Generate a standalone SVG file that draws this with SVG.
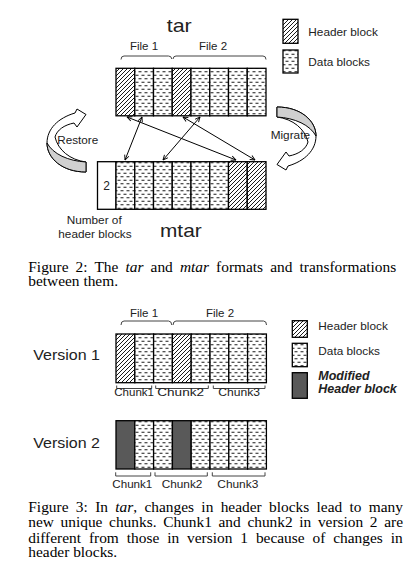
<svg xmlns="http://www.w3.org/2000/svg" xmlns:xlink="http://www.w3.org/1999/xlink" width="420" height="581" viewBox="0 0 420 581">
<style>
.lbl{font-family:"Liberation Sans",Arial,sans-serif;fill:#222}
.cap{font-family:"Liberation Serif","Times New Roman",serif;font-size:14px;fill:#000}
.blk{stroke:#000;stroke-width:1.3}
.brk{fill:none;stroke:#444;stroke-width:1}
.con{fill:none;stroke:#000;stroke-width:1;marker-start:url(#ah);marker-end:url(#ah)}
.rib{stroke:#000;stroke-width:1;stroke-linejoin:round}
</style>
<defs>
<pattern id="hatch" patternUnits="userSpaceOnUse" width="4" height="4">
<rect width="4" height="4" fill="#fff"/>
<path d="M-1,1L1,-1M0,4L4,0M3,5L5,3" stroke="#000" stroke-width="0.9"/>
</pattern>
<pattern id="dash" patternUnits="userSpaceOnUse" width="6" height="7">
<rect width="6" height="7" fill="#fff"/>
<path d="M0.5,1.75H3.5M3.5,5.25H6.5M-2.5,5.25H0.5" stroke="#000" stroke-width="0.9"/>
</pattern>
<marker id="ah" viewBox="0 0 8 8" refX="7.5" refY="4" markerWidth="6" markerHeight="6" markerUnits="userSpaceOnUse" orient="auto-start-reverse">
<path d="M1,1L7.5,4L1,7" fill="none" stroke="#000" stroke-width="1.2"/>
</marker>
<g id="ribbon">
<path class="rib" fill="#fff" d="M86,172C62,172 47,158 47,143C47,129 58,118 75,113L77,109L86,114.5L77,127L74,123C64,125 57,130 55,137C58,150 70,160 86,162Z"/>
<path class="rib" fill="#d0d0d0" d="M86,172C62,172 47,158 47,143C53,154 68,161 86,162Z"/>
</g>
</defs>
<rect width="420" height="581" fill="#fff"/>

<!-- Figure 2 -->
<g id="tar-row">
<text class="lbl" x="166.7" y="32" font-size="18.5" textLength="25" lengthAdjust="spacingAndGlyphs">tar</text>
<text class="lbl" x="144" y="50" font-size="11.5" text-anchor="middle">File 1</text>
<text class="lbl" x="213" y="50" font-size="11.5" text-anchor="middle">File 2</text>
<path class="brk" d="M121,59.5Q121,56 124,56H168.5Q171.5,56 171.8,59M173,59Q173.3,56 176,56H263Q266,56 266,59.5"/>
<rect class="blk" x="116" y="68.3" width="18.75" height="47.5" fill="url(#hatch)"/>
<rect class="blk" x="134.75" y="68.3" width="18.75" height="47.5" fill="url(#dash)"/>
<rect class="blk" x="153.5" y="68.3" width="18.75" height="47.5" fill="url(#dash)"/>
<rect class="blk" x="172.25" y="68.3" width="18.75" height="47.5" fill="url(#hatch)"/>
<rect class="blk" x="191" y="68.3" width="18.75" height="47.5" fill="url(#dash)"/>
<rect class="blk" x="209.75" y="68.3" width="18.75" height="47.5" fill="url(#dash)"/>
<rect class="blk" x="228.5" y="68.3" width="18.75" height="47.5" fill="url(#dash)"/>
<rect class="blk" x="247.25" y="68.3" width="18.75" height="47.5" fill="url(#dash)"/>
</g>

<g id="mtar-row">
<rect class="blk" x="97.5" y="161.7" width="18.5" height="47.6" fill="#fff"/>
<text class="lbl" x="106.5" y="190" font-size="12" text-anchor="middle">2</text>
<rect class="blk" x="116" y="161.7" width="18.75" height="47.6" fill="url(#dash)"/>
<rect class="blk" x="134.75" y="161.7" width="18.75" height="47.6" fill="url(#dash)"/>
<rect class="blk" x="153.5" y="161.7" width="18.75" height="47.6" fill="url(#dash)"/>
<rect class="blk" x="172.25" y="161.7" width="18.75" height="47.6" fill="url(#dash)"/>
<rect class="blk" x="191" y="161.7" width="18.75" height="47.6" fill="url(#dash)"/>
<rect class="blk" x="209.75" y="161.7" width="18.75" height="47.6" fill="url(#dash)"/>
<rect class="blk" x="228.5" y="161.7" width="18.75" height="47.6" fill="url(#hatch)"/>
<rect class="blk" x="247.25" y="161.7" width="18.75" height="47.6" fill="url(#hatch)"/>
<text class="lbl" x="66.7" y="224" font-size="11" textLength="55" lengthAdjust="spacingAndGlyphs">Number of</text>
<text class="lbl" x="58.3" y="238.3" font-size="11" textLength="73.3" lengthAdjust="spacingAndGlyphs">header blocks</text>
<text class="lbl" x="160" y="236.7" font-size="18.5" textLength="41.7" lengthAdjust="spacingAndGlyphs">mtar</text>
</g>

<g id="legend-fig2">
<rect class="blk" x="283" y="19.3" width="15" height="24" fill="url(#hatch)"/>
<text class="lbl" x="308.3" y="35.7" font-size="11.8">Header block</text>
<rect class="blk" x="283" y="50" width="15" height="23" fill="url(#dash)"/>
<text class="lbl" x="308.3" y="66" font-size="11.8">Data blocks</text>
</g>

<g id="restore">
<use xlink:href="#ribbon"/>
<text class="lbl" x="57.3" y="144" font-size="11" textLength="41" lengthAdjust="spacingAndGlyphs">Restore</text>
</g>

<g id="migrate">
<use xlink:href="#ribbon" transform="rotate(180 181.5 139.5)"/>
<text class="lbl" x="270.7" y="139.3" font-size="11" textLength="39.3" lengthAdjust="spacingAndGlyphs">Migrate</text>
</g>

<g id="connectors">
<line class="con" x1="127" y1="117" x2="236" y2="160"/>
<line class="con" x1="142" y1="117" x2="125" y2="160"/>
<line class="con" x1="183" y1="117" x2="255" y2="160"/>
<line class="con" x1="200" y1="117" x2="163" y2="160"/>
</g>

<g id="caption2" transform="translate(28.3,0) scale(1.1,1)">
<text class="cap" x="0" y="271.7" word-spacing="2.98">Figure 2: The <tspan font-style="italic">tar</tspan> and <tspan font-style="italic">mtar</tspan> formats and transformations</text>
<text class="cap" x="0" y="286">between them.</text>
</g>

<!-- Figure 3 -->
<g id="version1-row">
<text class="lbl" x="144" y="316.7" font-size="11.5" text-anchor="middle">File 1</text>
<text class="lbl" x="220" y="316.7" font-size="11.5" text-anchor="middle">File 2</text>
<path class="brk" d="M121,325Q121,321 124,321H168.5Q171.5,321 171.8,325M173,325Q173.3,321 176,321H263.5Q266.5,321 266.5,325"/>
<text class="lbl" x="33.3" y="360" font-size="14" textLength="66.7" lengthAdjust="spacingAndGlyphs">Version 1</text>
<rect class="blk" x="116" y="334" width="18.8" height="48.7" fill="url(#hatch)"/>
<rect class="blk" x="134.8" y="334" width="18.8" height="48.7" fill="url(#dash)"/>
<rect class="blk" x="153.6" y="334" width="18.8" height="48.7" fill="url(#dash)"/>
<rect class="blk" x="172.4" y="334" width="18.8" height="48.7" fill="url(#hatch)"/>
<rect class="blk" x="191.2" y="334" width="18.8" height="48.7" fill="url(#dash)"/>
<rect class="blk" x="210" y="334" width="18.8" height="48.7" fill="url(#dash)"/>
<rect class="blk" x="228.8" y="334" width="18.8" height="48.7" fill="url(#dash)"/>
<rect class="blk" x="247.6" y="334" width="18.8" height="48.7" fill="url(#dash)"/>
<path class="brk" d="M116.7,385.5V388.5H151.7V385.5M155.7,385.5V388.5H208.3V385.5M213.3,385.5V388.5H265V385.5"/>
<text class="lbl" x="114.3" y="396" font-size="10.3" textLength="39.7" lengthAdjust="spacingAndGlyphs">Chunk1</text>
<text class="lbl" x="157.3" y="396" font-size="10.3" textLength="46.7" lengthAdjust="spacingAndGlyphs">Chunk2</text>
<text class="lbl" x="218.3" y="396" font-size="10.3" textLength="41.7" lengthAdjust="spacingAndGlyphs">Chunk3</text>
</g>

<g id="version2-row">
<text class="lbl" x="33.3" y="448.3" font-size="14" textLength="66.7" lengthAdjust="spacingAndGlyphs">Version 2</text>
<rect class="blk" x="116" y="420.7" width="18.8" height="48.3" fill="#595959"/>
<rect class="blk" x="134.8" y="420.7" width="18.8" height="48.3" fill="url(#dash)"/>
<rect class="blk" x="153.6" y="420.7" width="18.8" height="48.3" fill="url(#dash)"/>
<rect class="blk" x="172.4" y="420.7" width="18.8" height="48.3" fill="#595959"/>
<rect class="blk" x="191.2" y="420.7" width="18.8" height="48.3" fill="url(#dash)"/>
<rect class="blk" x="210" y="420.7" width="18.8" height="48.3" fill="url(#dash)"/>
<rect class="blk" x="228.8" y="420.7" width="18.8" height="48.3" fill="url(#dash)"/>
<rect class="blk" x="247.6" y="420.7" width="18.8" height="48.3" fill="url(#dash)"/>
<path class="brk" d="M115.7,472.3V476H150.7V472.3M155,472.3V476H207.3V472.3M212.3,472.3V476H265V472.3"/>
<text class="lbl" x="112.3" y="488.3" font-size="10.3" textLength="40" lengthAdjust="spacingAndGlyphs">Chunk1</text>
<text class="lbl" x="161.7" y="488.3" font-size="10.3" textLength="40.7" lengthAdjust="spacingAndGlyphs">Chunk2</text>
<text class="lbl" x="217.3" y="488.3" font-size="10.3" textLength="41" lengthAdjust="spacingAndGlyphs">Chunk3</text>
</g>

<g id="legend-fig3">
<rect class="blk" x="292.3" y="320.7" width="15" height="16.6" fill="url(#hatch)"/>
<text class="lbl" x="318.3" y="330" font-size="11.8">Header block</text>
<rect class="blk" x="292.3" y="343.3" width="15" height="23.4" fill="url(#dash)"/>
<text class="lbl" x="318.3" y="355" font-size="11.8">Data blocks</text>
<rect class="blk" x="292.3" y="372.7" width="15" height="25.6" fill="#595959"/>
<text class="lbl" x="318.3" y="380" font-size="12.5" font-weight="bold" font-style="italic">Modified</text>
<text class="lbl" x="318.3" y="393.3" font-size="12.5" font-weight="bold" font-style="italic">Header block</text>
</g>

<g id="caption3" transform="translate(28.3,0) scale(1.1,1)">
<text class="cap" x="0" y="511.7" word-spacing="3.18">Figure 3: In <tspan font-style="italic">tar</tspan>, changes in header blocks lead to many</text>
<text class="cap" x="0" y="527.3" word-spacing="2.54">new unique chunks. Chunk1 and chunk2 in version 2 are</text>
<text class="cap" x="0" y="542.7" word-spacing="3.71">different from those in version 1 because of changes in</text>
<text class="cap" x="0" y="556.7">header blocks.</text>
</g>
</svg>
